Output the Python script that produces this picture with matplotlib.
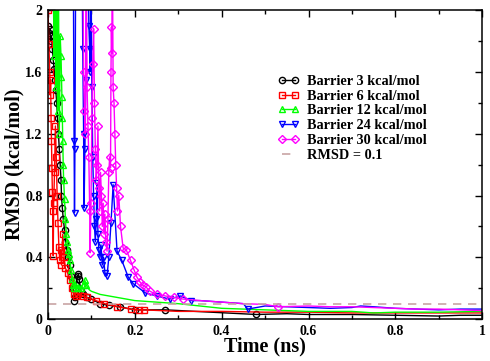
import matplotlib
matplotlib.use("Agg")
import matplotlib.pyplot as plt
from matplotlib.ticker import MultipleLocator, FixedFormatter, FixedLocator

plt.rcParams['font.family'] = ['Liberation Serif', 'DejaVu Serif']
plt.rcParams['font.weight'] = 'bold'

# Barrier 3 kcal/mol
b3_t = [0.000, 0.002, 0.004, 0.006, 0.008, 0.010, 0.012, 0.014, 0.016, 0.018,
        0.020, 0.022, 0.024, 0.026, 0.028, 0.030, 0.031, 0.033, 0.035, 0.038,
        0.040, 0.043, 0.046, 0.050, 0.054, 0.058, 0.060, 0.062, 0.065, 0.068,
        0.070, 0.072, 0.075, 0.080, 0.090, 0.100, 0.120, 0.140, 0.165, 0.200,
        0.270, 0.480,
        0.55, 0.60, 0.70, 0.80, 0.90, 0.95, 1.00]
b3_r = [1.90, 1.85, 1.88, 1.80, 1.83, 1.75, 1.68, 1.62, 1.55, 1.48,
        1.40, 1.30, 1.20, 1.10, 1.00, 0.90, 0.80, 0.72, 0.65, 0.58,
        0.50, 0.45, 0.40, 0.35, 0.28, 0.20, 0.12, 0.14, 0.22, 0.28,
        0.29, 0.26, 0.18, 0.16, 0.14, 0.13, 0.10, 0.09, 0.08, 0.06,
        0.06, 0.03,
        0.035, 0.03, 0.03, 0.025, 0.02, 0.025, 0.025]

# Barrier 6 kcal/mol
b6_t = [0.000, 0.002, 0.004, 0.005, 0.006, 0.007, 0.008, 0.009, 0.010, 0.011,
        0.012, 0.013, 0.015, 0.017, 0.019, 0.021, 0.023, 0.025, 0.027, 0.029,
        0.031, 0.034, 0.037, 0.040, 0.045, 0.050, 0.055, 0.060, 0.065, 0.070,
        0.080, 0.090, 0.110, 0.130, 0.160, 0.190, 0.210, 0.220,
        0.26, 0.30, 0.40, 0.50, 0.60, 0.70, 0.80, 0.90, 1.00]
b6_r = [2.00, 1.78, 1.60, 1.45, 1.55, 1.30, 1.15, 0.98, 0.82, 0.70,
        0.41, 0.75, 0.95, 1.25, 1.05, 0.80, 0.62, 0.47, 0.38, 0.45,
        0.35, 0.55, 0.40, 0.33, 0.30, 0.25, 0.20, 0.16, 0.15, 0.16,
        0.15, 0.14, 0.12, 0.10, 0.08, 0.065, 0.06, 0.06,
        0.055, 0.05, 0.05, 0.045, 0.045, 0.04, 0.04, 0.04, 0.04]

# Barrier 12 kcal/mol
b12_t = [0.012, 0.014, 0.016, 0.018, 0.020, 0.022, 0.024, 0.026, 0.028, 0.030,
         0.031, 0.032, 0.033, 0.034, 0.035, 0.036, 0.038, 0.040, 0.042, 0.044,
         0.046, 0.048, 0.050, 0.053, 0.056, 0.058, 0.060, 0.063, 0.066, 0.070,
         0.075, 0.080, 0.085, 0.088,
         0.095, 0.10, 0.11, 0.12, 0.14, 0.16, 0.18, 0.20, 0.25, 0.30,
         0.35, 0.40, 0.45, 0.50, 0.55, 0.60, 0.70, 0.75, 0.80, 0.90, 1.00]
b12_r = [2.20, 1.70, 2.30, 1.50, 2.40, 1.35, 2.20, 1.20, 1.83, 1.70,
         1.57, 1.44, 1.30, 1.15, 1.00, 0.90, 0.78, 0.65, 0.55, 0.50,
         0.45, 0.42, 0.38, 0.32, 0.26, 0.22, 0.20, 0.22, 0.20, 0.21,
         0.20, 0.22, 0.25, 0.22,
         0.19, 0.18, 0.17, 0.16, 0.15, 0.14, 0.13, 0.12, 0.11, 0.10,
         0.085, 0.07, 0.065, 0.06, 0.055, 0.05, 0.05, 0.04, 0.045, 0.045, 0.05]

# Barrier 24 kcal/mol
b24_t = [0.058, 0.060, 0.061, 0.062, 0.064, 0.078, 0.080, 0.082, 0.083, 0.085,
         0.087, 0.089, 0.092, 0.094, 0.096, 0.097, 0.099, 0.101, 0.103, 0.105,
         0.107, 0.109, 0.111, 0.113, 0.115, 0.117, 0.120, 0.122, 0.125, 0.128,
         0.131, 0.136, 0.140, 0.145, 0.150, 0.159, 0.170, 0.185, 0.196, 0.224,
         0.250, 0.280, 0.305, 0.330,
         0.35, 0.40, 0.45, 0.46, 0.50, 0.55, 0.60, 0.65, 0.70, 0.72, 0.75,
         0.80, 0.85, 0.90, 0.95, 1.00]
b24_r = [2.50, 1.15, 0.69, 1.10, 2.50, 2.50, 1.75, 1.20, 0.72, 1.10,
         1.55, 2.20, 2.50, 1.90, 1.75, 1.60, 2.30, 1.50, 1.05, 0.80,
         0.60, 0.50, 0.65, 0.88, 0.55, 0.45, 0.40, 0.48, 0.35, 0.40,
         0.30, 0.28, 0.40, 0.62, 0.87, 0.44, 0.38, 0.27, 0.23, 0.17,
         0.15, 0.13, 0.15, 0.12,
         0.12, 0.11, 0.10, 0.065, 0.085, 0.08, 0.075, 0.07, 0.075, 0.085, 0.08,
         0.07, 0.065, 0.06, 0.065, 0.065]

# Barrier 30 kcal/mol
b30_t = [0.080, 0.082, 0.084, 0.086, 0.088, 0.090, 0.092, 0.094, 0.096, 0.097,
         0.099, 0.101, 0.103, 0.105, 0.107, 0.109, 0.111, 0.113, 0.115, 0.117,
         0.119, 0.121, 0.123, 0.125, 0.127, 0.129, 0.131, 0.133, 0.136, 0.138,
         0.140, 0.142, 0.144, 0.145, 0.146, 0.147, 0.148, 0.150, 0.152, 0.154,
         0.156, 0.158, 0.160, 0.163, 0.167, 0.173, 0.180, 0.190, 0.198, 0.205,
         0.212, 0.218, 0.225, 0.235, 0.250, 0.270, 0.290, 0.310,
         0.35, 0.40, 0.45, 0.50, 0.53, 0.60, 0.65, 0.70, 0.75, 0.80, 0.85,
         0.90, 0.95, 1.00]
b30_r = [2.50, 1.60, 1.35, 1.20, 2.50, 1.50, 1.25, 1.05, 0.70, 0.43,
         0.75, 1.30, 1.65, 1.88, 1.40, 1.10, 0.90, 1.00, 1.25, 0.85,
         0.70, 0.95, 0.80, 0.60, 0.75, 0.55, 0.68, 0.50, 0.44, 0.65,
         0.95, 1.05, 0.98, 1.60, 1.89, 1.72, 2.50, 1.50, 1.40, 1.20,
         1.00, 0.85, 0.70, 0.80, 0.60, 0.46, 0.45, 0.38, 0.32, 0.27,
         0.24, 0.22, 0.21, 0.18, 0.16, 0.15, 0.14, 0.13,
         0.12, 0.11, 0.10, 0.095, 0.08, 0.085, 0.08, 0.08, 0.075, 0.07, 0.065,
         0.065, 0.06, 0.055]

threshold = 0.1

series = [
    (b3_t, b3_r, 'black', 'o', 'Barrier 3 kcal/mol', 0.27, [0.48]),
    (b6_t, b6_r, 'red', 's', 'Barrier 6 kcal/mol', 0.22, []),
    (b12_t, b12_r, '#00ff00', '^', 'Barrier 12 kcal/mol', 0.088, []),
    (b24_t, b24_r, 'blue', 'v', 'Barrier 24 kcal/mol', 0.33, [0.46]),
    (b30_t, b30_r, 'magenta', 'D', 'Barrier 30 kcal/mol', 0.31, [0.53]),
]

fig = plt.figure(figsize=(4.9, 3.61), dpi=100)
ax = fig.add_axes([0.098, 0.116, 0.886, 0.856])

for t, r, c, m, lab, cut, extra in series:
    marks = [i for i, x in enumerate(t) if x <= cut or x in extra]
    ms = 3.6 if m == 'D' else 4.5
    ax.plot(t, r, color=c, lw=1.0, marker=m, ms=ms, mfc='none', mec=c,
            mew=1.0, markevery=marks, label=lab)

ax.axhline(threshold, color='#c8a4a4', lw=1.2, dashes=(5, 4), label='RMSD = 0.1')

ax.set_xlim(0, 1)
ax.set_ylim(0, 2)
ax.xaxis.set_major_locator(FixedLocator([0, 0.2, 0.4, 0.6, 0.8, 1.0]))
ax.xaxis.set_major_formatter(FixedFormatter(['0', '0.2', '0.4', '0.6', '0.8', '1']))
ax.xaxis.set_minor_locator(MultipleLocator(0.1))
ax.yaxis.set_major_locator(FixedLocator([0, 0.4, 0.8, 1.2, 1.6, 2.0]))
ax.yaxis.set_major_formatter(FixedFormatter(['0', '0.4', '0.8', '1.2', '1.6', '2']))
ax.yaxis.set_minor_locator(MultipleLocator(0.2))
ax.tick_params(which='both', direction='in', top=True, right=True,
               labelsize=10, width=1.0)
ax.tick_params(which='major', length=5, pad=4)
ax.tick_params(which='minor', length=2.8)
for sp in ax.spines.values():
    sp.set_linewidth(1.1)

ax.set_xlabel('Time (ns)', fontsize=14.5, fontweight='bold', labelpad=-1)
ax.set_ylabel('RMSD (kcal/mol)', fontsize=14.5, fontweight='bold', labelpad=0.5)

ax.legend(loc='upper left', bbox_to_anchor=(0.53, 0.79), frameon=False,
          fontsize=10.3, numpoints=2, handlelength=1.5, handletextpad=0.55,
          labelspacing=0.12, borderpad=0, borderaxespad=0)

fig.savefig('out.png', dpi=100)
